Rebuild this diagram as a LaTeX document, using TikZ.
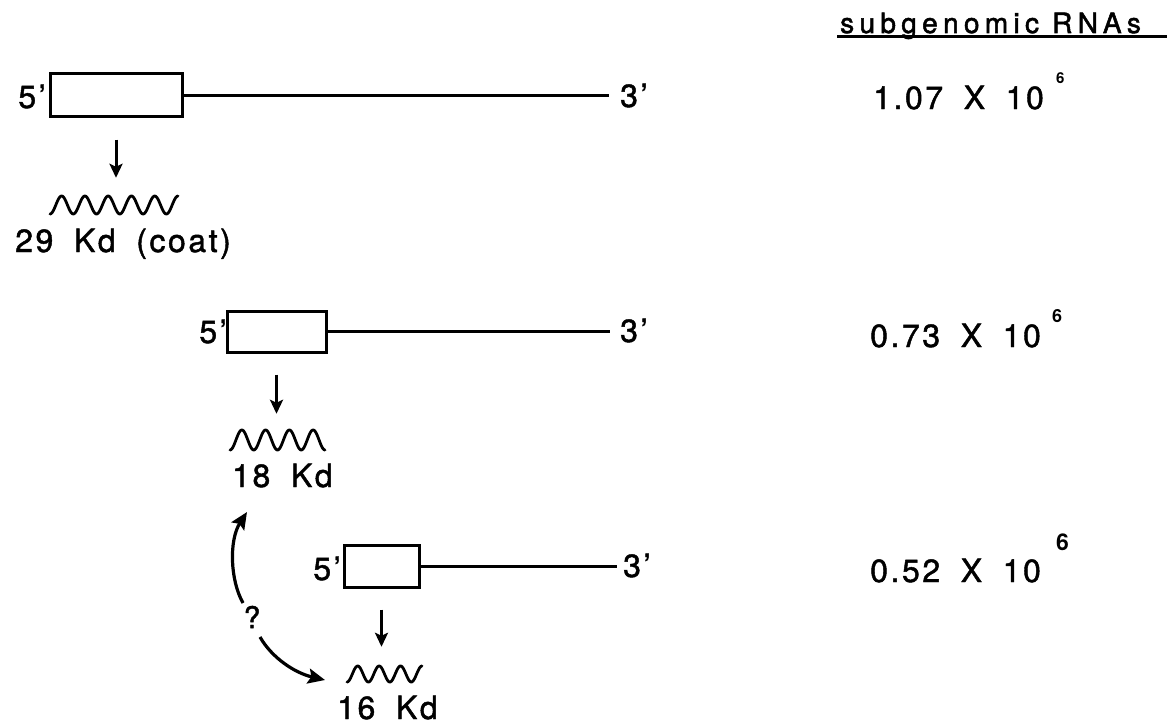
\documentclass[tikz,border=0pt]{standalone}
\usepackage{fontspec}
\setmainfont{TeX Gyre Heros}
\newfontfamily\hv[LetterSpace=8,WordSpace=1.8,FakeBold=1.4]{TeX Gyre Heros}
\newfontfamily\hvw[LetterSpace=19,FakeBold=1.8]{TeX Gyre Heros}
\newfontfamily\hvb{TeX Gyre Heros Bold}
\usetikzlibrary{arrows.meta}
\tikzset{
  gbox/.style={draw, line width=3pt, inner sep=0pt, rectangle},
  lbl/.style={inner sep=0pt, font=\fontsize{32}{36}\selectfont\hv},
  ttl/.style={inner sep=0pt, font=\fontsize{28}{32}\selectfont\hvw},
  sup/.style={inner sep=0pt, anchor=south west},
  rna/.style={line width=3pt},
  wv/.style={line width=2.8pt, line cap=round, line join=round},
  arr/.style={line width=3pt, -{Stealth[length=14pt,width=13pt,inset=3pt]}},
  carr/.style={line width=3.2pt, -{Stealth[length=17pt,width=15pt,inset=3pt]}},
  wnode/.style={inner sep=0pt, rectangle},
}
\newcommand{\wavepath}[5]{% x0, x1, yc, A, half-periods
  \draw[wv] plot[domain=0:#5*180, samples=160, smooth]
    ({#1+(\x/(#5*180))*(#2-#1)}, {#3+#4*cos(\x)});
}
\begin{document}
\begin{tikzpicture}[x=1pt,y=-1pt]
\useasboundingbox (0,0) rectangle (1167,725);

% header
\node[ttl, anchor=base west] (sub) at (840,33) {subgenomic RNAs};
\coordinate (ue) at (1167,37);
\draw[line width=3pt] (837,37) coordinate (us) -- (ue);

% ---------- row 1 ----------
\node[gbox, minimum width=132pt, minimum height=42pt] (b1) at (116,95) {};
\node[lbl, anchor=base east] (p1) at (46,108) {5’};
\node[lbl, anchor=base west] (t1) at (620,107) {3’};
\draw[rna, shorten >=11pt] (b1.east) -- (b1.east -| t1.west);
\node[wnode, minimum width=128pt, minimum height=20pt] (w1) at (114,205) {};
\wavepath{50}{178}{205}{9}{11}
\draw[arr, shorten <=22pt, shorten >=17pt] (b1.south) -- (b1.south |- w1.north);
\node[lbl, anchor=base west] (k29) at (15,252) {29 Kd (coat)};
\node[lbl, anchor=base west] (n1) at (873,109) {1.07 X 10};
\node[sup] (s1) at (1056,84) {\fontsize{15}{15}\selectfont\hvb 6};

% ---------- row 2 ----------
\node[gbox, minimum width=99pt, minimum height=41pt] (b2) at (276.5,331.5) {};
\node[lbl, anchor=base east] (p2) at (227,343) {5’};
\node[lbl, anchor=base west] (t2) at (620,342) {3’};
\draw[rna, shorten >=10pt] (b2.east) -- (b2.east -| t2.west);
\node[wnode, minimum width=95pt, minimum height=22pt] (w2) at (277.5,440) {};
\wavepath{230}{325}{440}{10}{8}
\draw[arr, shorten <=21pt, shorten >=15pt] (b2.south) -- (b2.south |- w2.north);
\node[lbl, anchor=base west] (k18) at (232,487) {18 Kd};
\node[lbl, anchor=base west] (n2) at (870,347) {0.73 X 10};
\node[sup] (s2) at (1052,323) {\fontsize{18}{18}\selectfont\hvb 6};

% ---------- row 3 ----------
\node[gbox, minimum width=75pt, minimum height=42pt] (b3) at (381.5,566) {};
\node[lbl, anchor=base east] (p3) at (341,580) {5’};
\node[lbl, anchor=base west] (t3) at (623,577) {3’};
\draw[rna, shorten >=6pt] (b3.east) -- (b3.east -| t3.west);
\node[wnode, minimum width=75pt, minimum height=18pt] (w3) at (384.5,674) {};
\wavepath{347}{422}{674}{8}{7}
\draw[arr, shorten <=21pt, shorten >=18pt] (b3.south) -- (b3.south |- w3.north);
\node[lbl, anchor=base west] (k16) at (337,719) {16 Kd};
\node[lbl, anchor=base west] (n3) at (870,582) {0.52 X 10};
\node[sup] (s3) at (1056,551) {\fontsize{23}{23}\selectfont\hvb 6};

% ---------- question arrows ----------
\node[inner sep=0pt, font=\fontsize{30}{34}\selectfont\hv] (q) at (252,617) {?};
\coordinate (qa) at (243,603);
\coordinate (qb) at (260,637);
\coordinate (tip18) at (247,512);
\coordinate (tip16) at (325,680);
\draw[carr] (qa) .. controls (230,580) and (229,540) .. (tip18);
\draw[carr] (qb) .. controls (272,658) and (295,673) .. (tip16);
\end{tikzpicture}
\end{document}
